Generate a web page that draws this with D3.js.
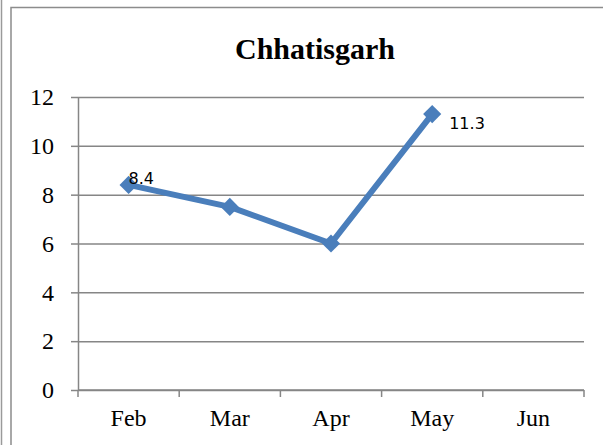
<!DOCTYPE html>
<html>
<head>
<meta charset="utf-8">
<script src="https://cdn.jsdelivr.net/npm/d3@7"></script>
<style>
  body { margin: 0; background: #fff; }
  svg { display: block; }
</style>
</head>
<body>
<div id="chart"></div>
<script>
// chart data
const title = "Chhatisgarh";
const months = ["Feb", "Mar", "Apr", "May", "Jun"];
const values = [8.4, 7.5, 6.0, 11.3, null];
const labelled = ["Feb", "May"]; // only these points carry a value label
const yTicks = [0, 2, 4, 6, 8, 10, 12];

const W = 603, H = 445;
const margin = { top: 97, right: 19, bottom: 55, left: 78 };
const width = W - margin.left - margin.right;
const height = H - margin.top - margin.bottom;

const svg = d3.select("#chart")
    .append("svg")
    .attr("width", W)
    .attr("height", H);

// frame lines round the chart
svg.append("line")
    .attr("x1", 1.5).attr("x2", 1.5).attr("y1", 0).attr("y2", H)
    .attr("stroke", "#9a9a9a").attr("stroke-width", 1.5);
svg.append("rect")
    .attr("x", 11).attr("y", 7.5)
    .attr("width", W).attr("height", H)
    .attr("fill", "none")
    .attr("stroke", "#8c8c8c").attr("stroke-width", 1.5);

// title
svg.append("text")
    .attr("x", 315)
    .attr("y", 59)
    .attr("text-anchor", "middle")
    .style("font-family", "'Liberation Serif', 'Times New Roman', serif")
    .style("font-weight", "bold")
    .style("font-size", "30px")
    .text(title);

const g = svg.append("g")
    .attr("transform", `translate(${margin.left},${margin.top})`);

const x = d3.scaleBand().domain(months).range([0, width]);
const y = d3.scaleLinear().domain([0, 12]).range([height, 0]);

// horizontal gridlines + y axis
g.append("g")
    .call(d3.axisLeft(y).tickValues(yTicks).tickSize(-width).tickSizeOuter(0).tickFormat(""))
    .call(s => s.select(".domain").remove())
    .selectAll("line")
    .attr("stroke", "#868686")
    .attr("stroke-width", 1.5);

const yAxis = g.append("g")
    .call(d3.axisLeft(y).tickValues(yTicks).tickSize(7).tickSizeOuter(0).tickPadding(17));
yAxis.select(".domain").attr("stroke", "#868686").attr("stroke-width", 1.5);
yAxis.selectAll("line").attr("stroke", "#868686").attr("stroke-width", 1.5);
yAxis.selectAll("text")
    .style("font-family", "'Liberation Serif', 'Times New Roman', serif")
    .style("font-size", "24px")
    .attr("fill", "#000");

// x axis with ticks at category boundaries
const xAxis = g.append("g")
    .attr("transform", `translate(0,${height})`)
    .call(d3.axisBottom(x).tickSize(0).tickPadding(19));
xAxis.select(".domain").remove();
xAxis.selectAll("text")
    .style("font-family", "'Liberation Serif', 'Times New Roman', serif")
    .style("font-size", "24px")
    .attr("fill", "#000");

const bounds = months.map(m => x(m)).concat([width]);
g.append("g")
    .selectAll("line")
    .data(bounds)
    .join("line")
    .attr("x1", d => d).attr("x2", d => d)
    .attr("y1", height).attr("y2", height + 7)
    .attr("stroke", "#868686").attr("stroke-width", 1.5);
g.append("line")
    .attr("x1", 0).attr("x2", width)
    .attr("y1", height).attr("y2", height)
    .attr("stroke", "#868686").attr("stroke-width", 1.5);

// series
const pts = months.map((m, i) => ({ month: m, value: values[i] }))
    .filter(d => d.value !== null);
const cx = d => x(d.month) + x.bandwidth() / 2;

g.append("path")
    .datum(pts)
    .attr("fill", "none")
    .attr("stroke", "#4a7ebb")
    .attr("stroke-width", 6)
    .attr("stroke-linejoin", "round")
    .attr("d", d3.line().x(cx).y(d => y(d.value)));

g.selectAll(".marker")
    .data(pts)
    .join("path")
    .attr("class", "marker")
    .attr("transform", d => `translate(${cx(d)},${y(d.value)})`)
    .attr("d", d3.symbol(d3.symbolDiamond2, 210)())
    .attr("fill", "#4a7ebb");

// value labels (positions follow the reference)
const labelShift = { Feb: [0, -1], May: [17, 15] };
g.selectAll(".vlabel")
    .data(pts.filter(d => labelled.includes(d.month)))
    .join("text")
    .attr("class", "vlabel")
    .attr("x", d => cx(d) + labelShift[d.month][0])
    .attr("y", d => y(d.value) + labelShift[d.month][1])
    .style("font-family", "'DejaVu Sans', sans-serif")
    .style("font-size", "16px")
    .attr("fill", "#000")
    .text(d => d.value.toFixed(1));
</script>
</body>
</html>
